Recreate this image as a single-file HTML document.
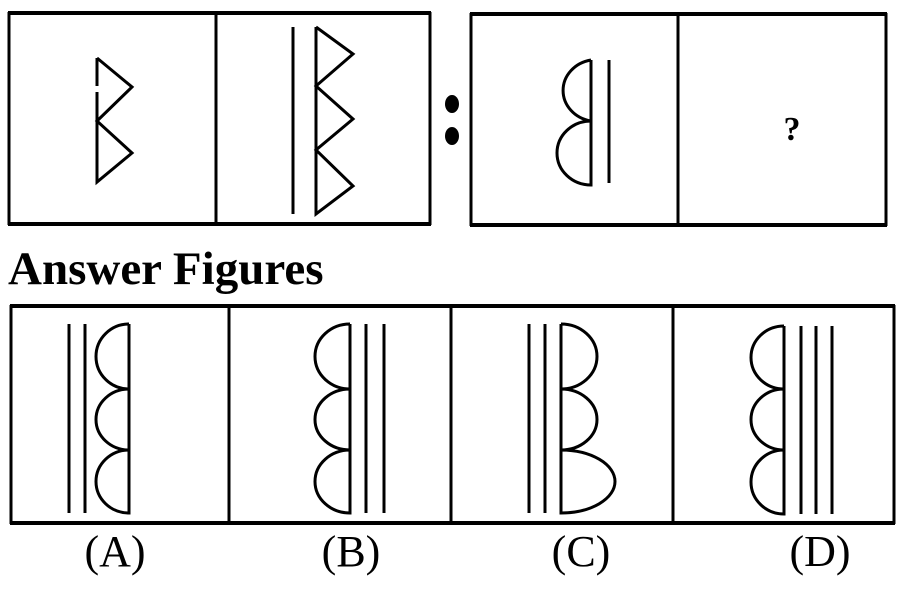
<!DOCTYPE html>
<html><head><style>
body{margin:0;background:#fff;width:906px;height:589px;overflow:hidden}
svg{display:block}
</style></head><body>
<svg width="906" height="589" viewBox="0 0 906 589" xmlns="http://www.w3.org/2000/svg">
<g fill="none" stroke="#000" stroke-width="3" stroke-linejoin="miter">
<line x1="8" y1="13" x2="431" y2="13" stroke-width="4"/>
<line x1="8" y1="224" x2="431" y2="224" stroke-width="4"/>
<line x1="9" y1="12" x2="9" y2="225"/>
<line x1="430" y1="12" x2="430" y2="225"/>
<line x1="216" y1="12" x2="216" y2="225"/>
<line x1="470" y1="14" x2="887" y2="14" stroke-width="4"/>
<line x1="470" y1="225" x2="887" y2="225" stroke-width="4"/>
<line x1="471" y1="13" x2="471" y2="226"/>
<line x1="886" y1="13" x2="886" y2="226"/>
<line x1="678" y1="13" x2="678" y2="226"/>
<polyline points="97,58 97,86"/>
<polyline points="97,58 132,87 97,121 132,153 97,182 97,92"/>
<line x1="293" y1="27" x2="293" y2="214"/>
<polyline points="316,27 353,54 316,86 353,119 316,150 353,186 316,214 316,27"/>
<path d="M591,60 L591,185 A34,32 0 0 1 591,121 A34,31 0 0 1 591,60"/>
<line x1="609" y1="60" x2="609" y2="183"/>
<line x1="10" y1="306" x2="895" y2="306" stroke-width="4"/>
<line x1="10" y1="523" x2="895" y2="523" stroke-width="4"/>
<line x1="11" y1="305" x2="11" y2="524"/>
<line x1="894" y1="305" x2="894" y2="524"/>
<line x1="229" y1="305" x2="229" y2="524"/>
<line x1="451" y1="305" x2="451" y2="524"/>
<line x1="673" y1="305" x2="673" y2="524"/>
<line x1="69" y1="324" x2="69" y2="513"/>
<line x1="85" y1="324" x2="85" y2="513"/>
<path d="M129,324 L129,513 A33,31.5 0 0 1 129,450 A33,30.5 0 0 1 129,389 A33,32.5 0 0 1 129,324"/>
<path d="M350,324 L350,513 A35,31.5 0 0 1 350,450 A35,30.5 0 0 1 350,389 A35,32.5 0 0 1 350,324"/>
<line x1="366" y1="324" x2="366" y2="513"/>
<line x1="384" y1="324" x2="384" y2="513"/>
<line x1="529" y1="324" x2="529" y2="513"/>
<line x1="545" y1="324" x2="545" y2="513"/>
<path d="M561,324 L561,513 A54,31.5 0 0 0 561,450 A36,30.5 0 0 0 561,389 A36,32.5 0 0 0 561,324"/>
<path d="M784,326 L784,514 A33,32 0 0 1 784,450 A33,30.5 0 0 1 784,389 A33,31.5 0 0 1 784,326"/>
<line x1="801" y1="326" x2="801" y2="514"/>
<line x1="816" y1="326" x2="816" y2="514"/>
<line x1="832" y1="326" x2="832" y2="514"/>
</g>
<ellipse cx="452" cy="104" rx="7" ry="9" fill="#000"/>
<ellipse cx="452" cy="136" rx="7" ry="9" fill="#000"/>
<text x="792" y="140" font-family="Liberation Serif, serif" font-weight="bold" font-size="34" text-anchor="middle">?</text>
<text x="8" y="284" font-family="Liberation Serif, serif" font-weight="bold" font-size="47">Answer Figures</text>
<g font-family="Liberation Serif, serif" font-size="44" text-anchor="middle">
<text x="115" y="566">(A)</text>
<text x="351" y="566">(B)</text>
<text x="581" y="566">(C)</text>
<text x="820" y="566">(D)</text>
</g>
</svg>
</body></html>
